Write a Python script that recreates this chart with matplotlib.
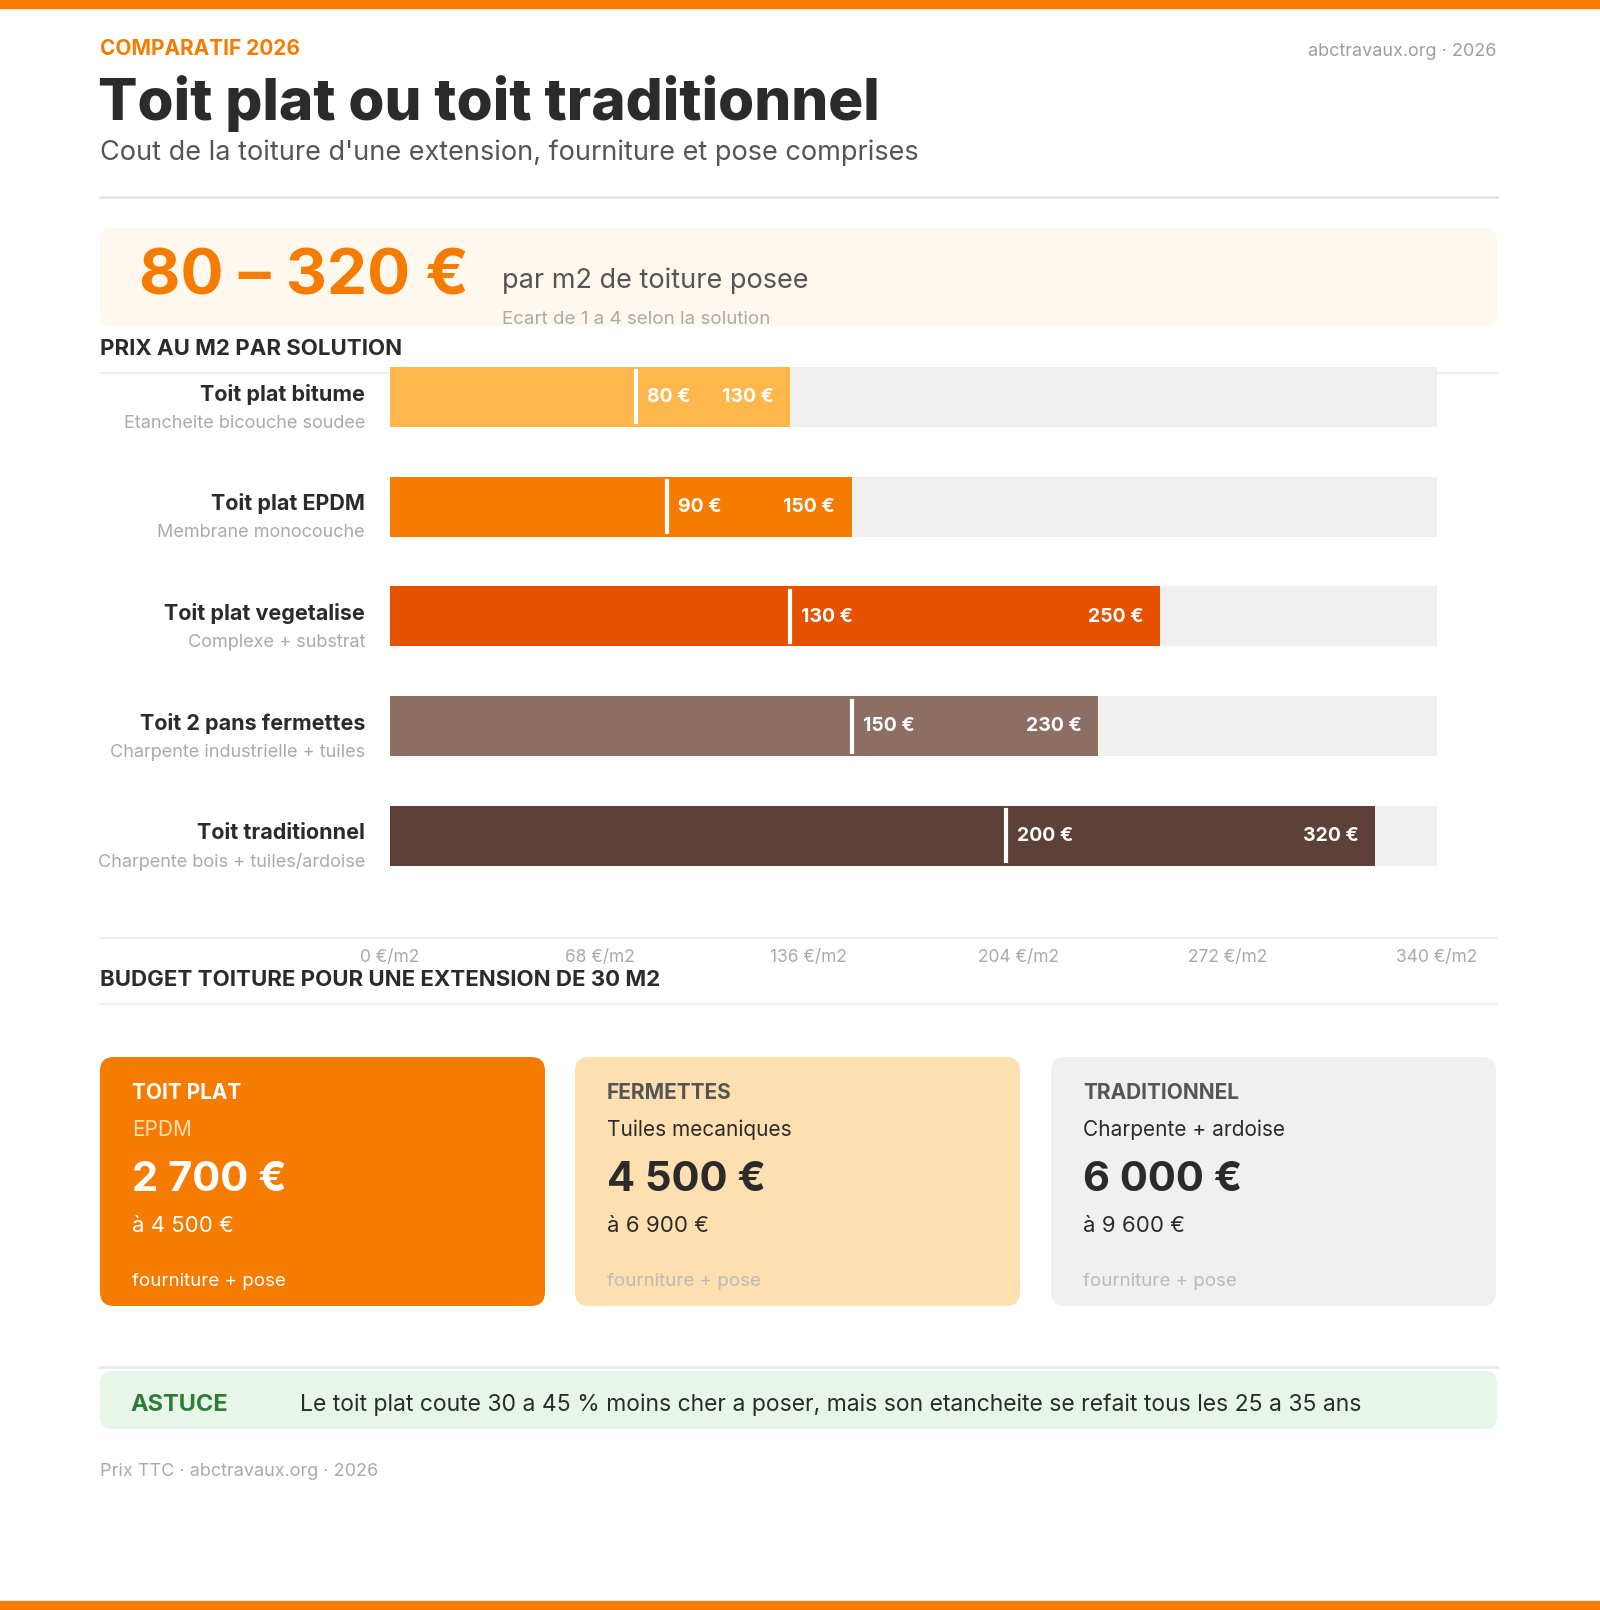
import matplotlib
matplotlib.use("Agg")
import matplotlib.pyplot as plt
from matplotlib.patches import FancyBboxPatch, Rectangle

plt.rcParams['font.family'] = ['Inter', 'DejaVu Sans']

categories = ["Toit plat bitume", "Toit plat EPDM", "Toit plat vegetalise",
              "Toit 2 pans fermettes", "Toit traditionnel"]
subtitles = ["Etancheite bicouche soudee", "Membrane monocouche", "Complexe + substrat",
             "Charpente industrielle + tuiles", "Charpente bois + tuiles/ardoise"]
low = [80, 90, 130, 150, 200]
high = [130, 150, 250, 230, 320]
bar_colors = ["#FFB74D", "#F57C00", "#E65100", "#8D6E63", "#5D4037"]
ticks = [0, 68, 136, 204, 272, 340]
tick_labels = ["0 €/m2", "68 €/m2", "136 €/m2", "204 €/m2", "272 €/m2", "340 €/m2"]

card_titles = ["TOIT PLAT", "FERMETTES", "TRADITIONNEL"]
card_subs = ["EPDM", "Tuiles mecaniques", "Charpente + ardoise"]
card_low = ["2 700 €", "4 500 €", "6 000 €"]
card_high = ["à 4 500 €", "à 6 900 €", "à 9 600 €"]

W, H = 1600, 1610
fig = plt.figure(figsize=(W/100, H/100), dpi=100)
bg = fig.add_axes([0, 0, 1, 1])
bg.set_xlim(0, W); bg.set_ylim(H, 0); bg.axis('off')

ORANGE = "#F57C00"
DARK = "#2B2B2B"
bg.add_patch(Rectangle((0, 0), W, 8, color=ORANGE))
bg.add_patch(Rectangle((0, H-9), W, 9, color=ORANGE))

bg.text(100, 49, "COMPARATIF 2026", color=ORANGE, fontsize=15, fontweight='bold', va='center')
bg.text(1497, 51, "abctravaux.org · 2026", color="#9E9E9E", fontsize=13, va='center', ha='right')
bg.text(98, 104, "Toit plat ou toit traditionnel", color=DARK, fontsize=42, fontweight='heavy', va='center')
bg.text(100, 153, "Cout de la toiture d'une extension, fourniture et pose comprises", color="#555555",
        fontsize=19.5, va='center')
bg.plot([100, 1497], [197, 197], color="#E6E6E6", lw=2)

bg.add_patch(FancyBboxPatch((100, 228), 1397, 98, boxstyle="round,pad=0,rounding_size=12",
                            fc="#FFF8EE", ec="none"))
bg.text(139, 278, "80 – 320 €", color=ORANGE, fontsize=46, fontweight='bold', va='center')
bg.text(502, 281, "par m2 de toiture posee", color="#555555", fontsize=19.5, va='center')
bg.text(502, 319, "Ecart de 1 a 4 selon la solution", color="#AAAAAA", fontsize=13.5, va='center')

bg.text(100, 349, "PRIX AU M2 PAR SOLUTION", color=DARK, fontsize=16, fontweight='bold', va='center')
bg.plot([100, 1497], [373, 373], color="#F0F0F0", lw=1.5)

row0, step = 397, 109.75
for i, (c, s) in enumerate(zip(categories, subtitles)):
    y = row0 + i*step
    bg.text(365, y-3, c, color=DARK, fontsize=15.5, fontweight='bold', ha='right', va='center')
    bg.text(365, y+26, s, color="#AAAAAA", fontsize=13, ha='right', va='center')

left, right = 390, 1437
top, bottom = row0 - step/2, row0 + 4*step + step/2
ax = fig.add_axes([left/W, 1 - bottom/H, (right-left)/W, (bottom-top)/H])
ax.patch.set_alpha(0)
ax.set_xlim(0, 340); ax.set_ylim(4.5, -0.5)
for sp in ax.spines.values():
    sp.set_visible(False)
ax.set_yticks([])
ax.set_xticks(ticks); ax.set_xticklabels(tick_labels)
ax.tick_params(axis='x', length=0, pad=42, labelsize=12.5, labelcolor="#AAAAAA")
bh = 60/step
ax.barh(range(5), [340]*5, height=bh, color="#F0F0F0", zorder=1)
ax.barh(range(5), high, height=bh, color=bar_colors, zorder=2)
for i in range(5):
    ax.plot([low[i], low[i]], [i-bh/2*0.85, i+bh/2*0.85], color="white", lw=3, zorder=3)
    ax.annotate(f"{low[i]} €", (low[i], i), xytext=(8, 0), textcoords='offset points',
                color="white", fontsize=14, fontweight='bold', va='center', ha='left', zorder=4)
    ax.annotate(f"{high[i]} €", (high[i], i), xytext=(-12, 0), textcoords='offset points',
                color="white", fontsize=14, fontweight='bold', va='center', ha='right', zorder=4)

bg.plot([100, 1497], [938, 938], color="#F0F0F0", lw=1.5)
bg.text(100, 980, "BUDGET TOITURE POUR UNE EXTENSION DE 30 M2", color=DARK, fontsize=16,
        fontweight='bold', va='center')
bg.plot([100, 1497], [1004, 1004], color="#F0F0F0", lw=1.5)

card_x = [100, 575, 1051]
card_fc = [ORANGE, "#FDDFB0", "#F0F0F0"]
title_c = ["white", "#555555", "#555555"]
sub_c = ["#FFE0B2", DARK, DARK]
big_c = ["white", DARK, DARK]
foot_c = ["white", "#BBBBBB", "#BBBBBB"]
for j in range(3):
    x = card_x[j]
    bg.add_patch(FancyBboxPatch((x, 1057), 445, 249, boxstyle="round,pad=0,rounding_size=14",
                                fc=card_fc[j], ec="none"))
    tx = x + 32
    bg.text(tx, 1093, card_titles[j], color=title_c[j], fontsize=15, fontweight='bold', va='center')
    bg.text(tx, 1130, card_subs[j], color=sub_c[j], fontsize=15, va='center')
    bg.text(tx, 1180, card_low[j], color=big_c[j], fontsize=30, fontweight='bold', va='center')
    bg.text(tx, 1226, card_high[j], color=big_c[j], fontsize=16, va='center')
    bg.text(tx, 1281, "fourniture + pose", color=foot_c[j], fontsize=13.5, va='center')

bg.plot([100, 1497], [1367, 1367], color="#EBEBEB", lw=2)
bg.add_patch(FancyBboxPatch((100, 1371), 1397, 58, boxstyle="round,pad=0,rounding_size=12",
                            fc="#E8F5E9", ec="none"))
bg.text(130, 1405, "ASTUCE", color="#2E7D32", fontsize=17, fontweight='bold', va='center')
bg.text(300, 1405, "Le toit plat coute 30 a 45 % moins cher a poser, mais son etancheite se refait tous les 25 a 35 ans",
        color=DARK, fontsize=16.5, va='center')
bg.text(100, 1471, "Prix TTC · abctravaux.org · 2026", color="#AAAAAA", fontsize=13, va='center')

fig.savefig("out.png", dpi=100, facecolor="white")
